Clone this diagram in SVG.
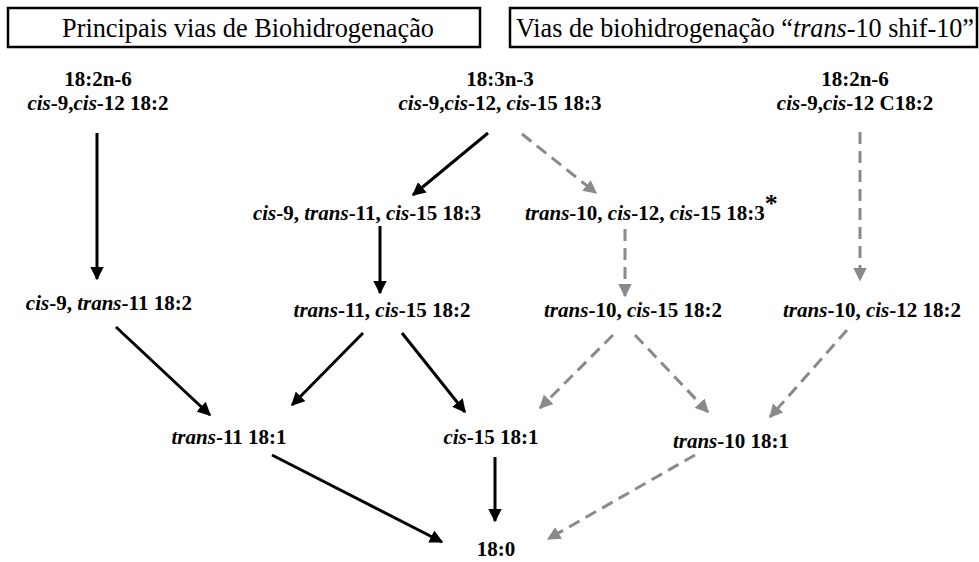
<svg xmlns="http://www.w3.org/2000/svg" width="979" height="562" viewBox="0 0 979 562">
<style>
text{font-family:'Liberation Serif','Times New Roman',Times,'DejaVu Serif',serif}
.hdr{font-size:26.5px;fill:#000}
.n{font-size:21px;font-weight:bold;fill:#000;text-anchor:middle}
.i{font-style:italic}
.box{fill:#fff;stroke:#000;stroke-width:2.5}
.s{stroke:#000;stroke-width:3;fill:none}
.d{stroke:#8a8a8a;stroke-width:3;fill:none;stroke-dasharray:12 7}
</style>
<defs>
<marker id="ab" viewBox="0 0 10 10" refX="9" refY="5" markerWidth="4.5" markerHeight="4.5" markerUnits="strokeWidth" orient="auto"><path d="M0,0 L10,5 L0,10 z" fill="#000"/></marker>
<marker id="ag" viewBox="0 0 10 10" refX="9" refY="5" markerWidth="4.5" markerHeight="4.5" markerUnits="strokeWidth" orient="auto"><path d="M0,0 L10,5 L0,10 z" fill="#8a8a8a"/></marker>
</defs>
<rect width="979" height="562" fill="#fff"/>
<g id="hdr1"><rect class="box" x="8" y="8" width="472" height="39"/><text class="hdr" x="62" y="37" textLength="372" lengthAdjust="spacingAndGlyphs">Principais vias de Biohidrogenação</text></g>
<g id="hdr2"><rect class="box" x="510" y="8" width="467" height="39"/><text class="hdr" x="516" y="37" textLength="458" lengthAdjust="spacingAndGlyphs">Vias de biohidrogenação “<tspan class="i">trans</tspan>-10 shif-10”</text></g>
<g id="n1"><text class="n" x="98" y="86">18:2n-6</text><text class="n" x="98" y="110"><tspan class="i">cis</tspan>-9,<tspan class="i">cis</tspan>-12 18:2</text></g>
<g id="n2"><text class="n" x="500" y="86">18:3n-3</text><text class="n" x="500" y="110"><tspan class="i">cis</tspan>-9,<tspan class="i">cis</tspan>-12, <tspan class="i">cis</tspan>-15 18:3</text></g>
<g id="n3"><text class="n" x="855" y="86">18:2n-6</text><text class="n" x="855" y="110"><tspan class="i">cis</tspan>-9,<tspan class="i">cis</tspan>-12 C18:2</text></g>
<g id="n4"><text class="n" x="367" y="220"><tspan class="i">cis</tspan>-9, <tspan class="i">trans</tspan>-11, <tspan class="i">cis</tspan>-15 18:3</text></g>
<g id="n5"><text class="n" x="525" y="220" style="text-anchor:start"><tspan class="i">trans</tspan>-10, <tspan class="i">cis</tspan>-12, <tspan class="i">cis</tspan>-15 18:3<tspan font-size="26" dy="-8">*</tspan></text></g>
<g id="n6"><text class="n" x="109" y="310"><tspan class="i">cis</tspan>-9, <tspan class="i">trans</tspan>-11 18:2</text></g>
<g id="n7"><text class="n" x="382" y="317"><tspan class="i">trans</tspan>-11, <tspan class="i">cis</tspan>-15 18:2</text></g>
<g id="n8"><text class="n" x="633" y="317"><tspan class="i">trans</tspan>-10, <tspan class="i">cis</tspan>-15 18:2</text></g>
<g id="n9"><text class="n" x="872" y="317"><tspan class="i">trans</tspan>-10, <tspan class="i">cis</tspan>-12 18:2</text></g>
<g id="n10"><text class="n" x="229" y="444"><tspan class="i">trans</tspan>-11 18:1</text></g>
<g id="n11"><text class="n" x="491" y="444"><tspan class="i">cis</tspan>-15 18:1</text></g>
<g id="n12"><text class="n" x="731" y="448"><tspan class="i">trans</tspan>-10 18:1</text></g>
<g id="n13"><text class="n" x="496" y="556">18:0</text></g>
<g id="connectors">
<line class="s" x1="97" y1="133" x2="97" y2="279" marker-end="url(#ab)"/>
<line class="s" x1="488" y1="133" x2="413" y2="195" marker-end="url(#ab)"/>
<line class="d" x1="522" y1="134" x2="596" y2="193" marker-end="url(#ag)"/>
<line class="d" x1="860" y1="132" x2="860" y2="280" marker-end="url(#ag)"/>
<line class="s" x1="380" y1="226" x2="380" y2="293" marker-end="url(#ab)"/>
<line class="d" x1="625" y1="229" x2="625" y2="296" marker-end="url(#ag)"/>
<line class="s" x1="116" y1="327" x2="210" y2="415" marker-end="url(#ab)"/>
<line class="s" x1="363" y1="333" x2="292" y2="405" marker-end="url(#ab)"/>
<line class="s" x1="402" y1="333" x2="465" y2="412" marker-end="url(#ab)"/>
<line class="d" x1="613" y1="335" x2="540" y2="408" marker-end="url(#ag)"/>
<line class="d" x1="635" y1="335" x2="708" y2="412" marker-end="url(#ag)"/>
<line class="d" x1="847" y1="330" x2="770" y2="417" marker-end="url(#ag)"/>
<line class="s" x1="272" y1="455" x2="442" y2="542" marker-end="url(#ab)"/>
<line class="s" x1="495" y1="457" x2="495" y2="521" marker-end="url(#ab)"/>
<line class="d" x1="695" y1="455" x2="548" y2="539" marker-end="url(#ag)"/>
</g>
</svg>
